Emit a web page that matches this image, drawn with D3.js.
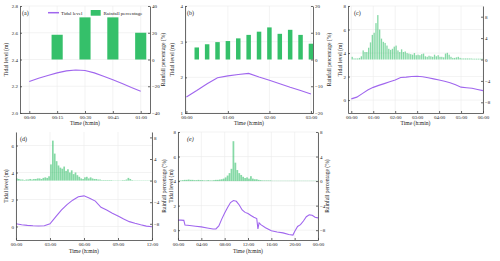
<!DOCTYPE html>
<html>
<head>
<meta charset="utf-8">
<script src="https://d3js.org/d3.v7.min.js"></script>
<style>
body{margin:0;background:#fff}
svg{display:block;font-family:"Liberation Serif","Times New Roman",serif}
.axis path,.axis line{stroke:#444;stroke-width:0.8}
.axis text{font-size:5px;fill:#222;font-family:"Liberation Serif",serif}
</style>
</head>
<body>
<script>
// all times in minutes
// (a)
var rainTimeA = [15, 30, 45, 60];
var rainA = [18.5, 31.5, 31.5, 20];
var tideTimeA = [0, 5, 10, 15, 20, 25, 30, 35, 40, 45, 50, 55, 60];
var tideA = [2.235, 2.26, 2.28, 2.30, 2.315, 2.322, 2.318, 2.30, 2.275, 2.248, 2.22, 2.19, 2.163];

// (b)
var rainTimeB = [15, 30, 45, 60, 75, 90, 105, 120, 135, 150, 165, 180];
var rainB = [4.5, 5.7, 6.5, 6.9, 7.9, 9.2, 10.4, 12.0, 9.6, 11.1, 9.2, 5.9];
var tideTimeB = [0, 15, 30, 45, 60, 75, 90, 105, 120, 135, 150, 165, 180];
var tideB = [1.45, 1.63, 1.82, 1.99, 2.04, 2.08, 2.11, 2.01, 1.92, 1.82, 1.72, 1.63, 1.53];

// (c) rainfall every 5 min
var rainC = [0.5,0.2,0.2,0.2,0.3,0.6,1.7,1.4,1.4,2.2,
  3.2,4.6,5.0,6.8,8.3,5.6,3.9,3.3,3.1,2.6,
  2.0,1.8,2.0,2.4,2.6,1.7,1.4,1.9,1.4,1.5,
  1.2,1.1,1.0,0.9,1.2,0.8,0.9,0.8,1.0,1.1,
  0.6,0.5,0.7,0.6,0.5,0.9,0.6,0.8,0.5,0.5,
  0.4,1.1,1.25,0.9,0.5,0.3,0.3,0.4,0.5,0.3,
  0.2,0.2,0.2,0.2,0.2,0.2,0.15,0.15,0.15,0.15,0.15,0.15];
var tideTimeC = [0, 15, 30, 45, 60, 75, 90, 105, 120, 135, 150, 165, 180, 195, 210, 225, 240, 255, 270, 285, 300, 315, 330, 345, 360];
var tideC = [0.1, 0.25, 0.55, 0.85, 1.08, 1.25, 1.4, 1.55, 1.7, 1.92, 1.95, 2.0, 2.02, 1.98, 1.9, 1.8, 1.7, 1.6, 1.47, 1.3, 1.1, 1.05, 1.0, 0.9, 0.8];

// (d) rainfall every 10 min
var rainD = [0.4,0.3,0.2,0.2,0.1,0.2,
  0.2,0.3,0.2,0.3,0.3,0.4,
  0.4,0.3,0.5,0.6,0.5,0.8,
  3.0,7.4,5.0,3.6,2.8,2.4,
  2.2,2.6,1.8,2.1,1.5,1.9,
  1.2,1.5,1.0,0.7,0.4,0.3,
  0.6,0.7,0.4,0.6,0.4,0.3,
  0.3,0.2,0.2,0.1,0.1,0.1,
  0.1,0.1,0.1,0.05,0.05,0.05,
  0.05,0.05,0.1,0.1,0.2,0.5,
  0.3,0.1,0.05,0.05,0.05,0.05,
  0.05,0.05,0.05,0.05,0.05,0.05];
var tideTimeD = [0, 30, 60, 90, 120, 150, 180, 210, 240, 270, 300, 330, 360, 390, 420, 450, 480, 510, 540, 570, 600, 630, 660, 690, 720];
var tideD = [0.2, 0.13, 0.08, 0.05, 0.04, 0.05, 0.2, 0.72, 1.22, 1.62, 1.95, 2.2, 2.27, 2.1, 1.88, 1.42, 1.22, 0.98, 0.77, 0.55, 0.36, 0.24, 0.13, 0.03, -0.02];

// (e) rainfall every 20 min
var rainE = [0.1,0.1,0.15,0.2,0.2,0.25,0.2,0.2,0.15,0.15,0.2,0.15,
  0.15,0.1,0.1,0.15,0.1,0.1,0.15,0.2,0.2,0.25,0.3,0.4,
  0.6,0.9,1.3,2.0,6.5,3.0,1.8,1.3,1.0,0.7,0.5,0.6,
  0.4,0.8,0.4,0.3,0.3,0.2,0.15,0.1,0.1,0.1,0.1,0.1,
  0.05,0.05,0.05,0.05,0.05,0.05,0.05,0.05,0.05,0.05,0.05,0.05,
  0.05,0.05,0.05,0.05,0.05,0.05,0.05,0.05,0.05,0.05,0.05,0.05];
var tideTimeE = [0, 30, 60, 72, 120, 180, 240, 300, 360, 390, 420, 450, 480, 510, 540, 570, 600, 630, 660, 690, 720, 750, 780, 810, 822, 834, 852, 900, 960, 1020, 1080, 1140, 1182, 1200, 1230, 1260, 1290, 1320, 1350, 1380, 1410, 1440];
var tideE = [0.82, 0.82, 0.8, 0.42, 0.38, 0.32, 0.27, 0.18, 0.1, 0.1, 0.35, 0.9, 1.4, 1.85, 2.25, 2.42, 2.35, 2.05, 1.65, 1.45, 1.35, 1.2, 1.05, 0.95, 0.1, 0.6, 0.45, 0.2, -0.05, -0.15, -0.22, -0.35, -0.4, -0.1, 0.3, 0.45, 0.75, 1.1, 1.25, 1.22, 1.05, 1.0];

var svg = d3.select("body").append("svg").attr("width", 500).attr("height", 261);

function hhmm(m) {
  m = Math.round(m) % 1440;
  return d3.format("02d")(Math.floor(m / 60)) + ":" + d3.format("02d")(m % 60);
}

var purple = "#a066ee";
var green = "#35c06a";

function panel(p) {
  var g = svg.append("g");
  var x = d3.scaleLinear().domain(p.xd).range([p.x0, p.x1]);
  var yl = d3.scaleLinear().domain(p.yld).range([p.y1, p.y0]);
  var yr = d3.scaleLinear().domain(p.yrd).range([p.y1, p.y0]);

  // grid
  g.selectAll(".gx").data(p.xt).enter().append("line")
    .attr("x1", d => x(d)).attr("x2", d => x(d))
    .attr("y1", p.y0).attr("y2", p.y1)
    .attr("stroke", "#ebebeb").attr("stroke-width", 0.6);
  g.selectAll(".gy").data(p.ylt).enter().append("line")
    .attr("x1", p.x0).attr("x2", p.x1)
    .attr("y1", d => yl(d)).attr("y2", d => yl(d))
    .attr("stroke", "#ebebeb").attr("stroke-width", 0.6);

  // bars
  var bw = x(p.bw) - x(0);
  g.selectAll(".bar").data(p.rain).enter().append("rect")
    .attr("x", (d, i) => x(p.rainT[i]) - bw / 2)
    .attr("y", d => yr(d))
    .attr("width", bw)
    .attr("height", d => yr(0) - yr(d))
    .attr("fill", green)
    .attr("fill-opacity", p.op);

  // tidal line
  var line = d3.line().x((d, i) => x(p.tideT[i])).y(d => yl(d));
  g.append("path").datum(p.tide)
    .attr("d", line)
    .attr("fill", "none")
    .attr("stroke", purple)
    .attr("stroke-width", 1.1);

  // axes (ticks point inward)
  g.append("g").attr("class", "axis")
    .attr("transform", "translate(0," + p.y1 + ")")
    .call(d3.axisBottom(x).tickValues(p.xt).tickFormat(hhmm).tickSizeInner(-2).tickSizeOuter(0).tickPadding(2));
  g.append("g").attr("class", "axis")
    .attr("transform", "translate(" + p.x0 + ",0)")
    .call(d3.axisLeft(yl).tickValues(p.ylt).tickFormat(p.ylf || d3.format("d")).tickSizeInner(-2).tickSizeOuter(0).tickPadding(2));
  g.append("g").attr("class", "axis")
    .attr("transform", "translate(" + p.x1 + ",0)")
    .call(d3.axisRight(yr).tickValues(p.yrt).tickFormat(d3.format("d")).tickSizeInner(-2).tickSizeOuter(0).tickPadding(2));

  // titles
  var cy = (p.y0 + p.y1) / 2;
  g.append("text").attr("transform", "translate(" + p.tl + "," + cy + ") rotate(-90)")
    .attr("text-anchor", "middle").attr("font-size", 5.6).attr("fill", "#222")
    .text("Tidal level (m)");
  if (p.tr) {
    g.append("text").attr("transform", "translate(" + p.tr + "," + cy + ") rotate(-90)")
      .attr("text-anchor", "middle").attr("font-size", 5.6).attr("fill", "#222")
      .text("Rainfall percentage (%)");
  }
  g.append("text").attr("x", (p.x0 + p.x1) / 2).attr("y", p.y1 + p.ty)
    .attr("text-anchor", "middle").attr("font-size", 5.6).attr("fill", "#222")
    .text("Time (h:min)");
  g.append("text").attr("x", p.lx).attr("y", p.y0 + 9)
    .attr("font-size", 6).attr("fill", "#222")
    .attr("font-style", p.it ? "italic" : "normal")
    .text(p.label);
}

panel({label: "(a)", lx: 22, x0: 20, x1: 150, y0: 6, y1: 113, tl: 8, tr: 165, ty: 12,
  xd: [-5, 65], xt: [0, 15, 30, 45, 60],
  yld: [2.0, 2.8], ylt: [2.0, 2.2, 2.4, 2.6, 2.8], ylf: d3.format(".1f"),
  yrd: [-40, 40], yrt: [-40, -20, 0, 20, 40],
  rain: rainA, rainT: rainTimeA, bw: 6, op: 1,
  tide: tideA, tideT: tideTimeA});

panel({label: "(b)", lx: 187, x0: 185, x1: 313, y0: 6, y1: 113, tl: 174, tr: 331, ty: 12,
  xd: [-2, 183], xt: [0, 60, 120, 180],
  yld: [1, 4], ylt: [1, 2, 3, 4],
  yrd: [-20, 20], yrt: [-20, -10, 0, 10, 20],
  rain: rainB, rainT: rainTimeB, bw: 6.5, op: 1,
  tide: tideB, tideT: tideTimeB});

// (c): its right-hand title lies beyond the picture's edge in the source
panel({label: "(c)", lx: 354, x0: 348, x1: 483, y0: 6, y1: 113, tl: 342, tr: null, ty: 12,
  xd: [-9, 360], xt: [0, 60, 120, 180, 240, 300, 360],
  yld: [-1.1, 8], ylt: [0, 2, 4, 6, 8],
  yrd: [-10, 10], yrt: [-8, -4, 0, 4, 8],
  rain: rainC, rainT: rainC.map((d, i) => i * 5 + 2.5), bw: 3.6, op: 0.6,
  tide: tideC, tideT: tideTimeC});

panel({label: "(d)", lx: 20, x0: 16, x1: 152, y0: 132, y1: 240, tl: 8, tr: 166, ty: 13,
  xd: [0, 720], xt: [0, 180, 360, 540, 720],
  yld: [-1, 7], ylt: [0, 2, 4, 6],
  yrd: [-11, 9], yrt: [-8, -4, 0, 4, 8],
  rain: rainD, rainT: rainD.map((d, i) => i * 10 + 5), bw: 9, op: 0.6,
  tide: tideD, tideT: tideTimeD});

panel({label: "(e)", lx: 187, it: true, x0: 178, x1: 318, y0: 132, y1: 240, tl: 172.5, tr: 329, ty: 13,
  xd: [0, 1440], xt: [0, 240, 480, 720, 960, 1200, 1440],
  yld: [-0.8, 8], ylt: [0, 2, 4, 6, 8],
  yrd: [-9.6, 8], yrt: [-8, -4, 0, 4, 8],
  rain: rainE, rainT: rainE.map((d, i) => i * 20 + 10), bw: 18, op: 0.6,
  tide: tideE, tideT: tideTimeE});

// legend in (a)
svg.append("line").attr("x1", 48).attr("x2", 59).attr("y1", 12.7).attr("y2", 12.7)
  .attr("stroke", purple).attr("stroke-width", 1.5);
svg.append("text").attr("x", 61).attr("y", 14.5).attr("font-size", 5).attr("fill", "#222").text("Tidal level");
svg.append("rect").attr("x", 90.7).attr("y", 10).attr("width", 10).attr("height", 5.7).attr("fill", green);
svg.append("text").attr("x", 103.5).attr("y", 14.5).attr("font-size", 5).attr("fill", "#222").text("Rainfall percentage");
</script>
</body>
</html>
